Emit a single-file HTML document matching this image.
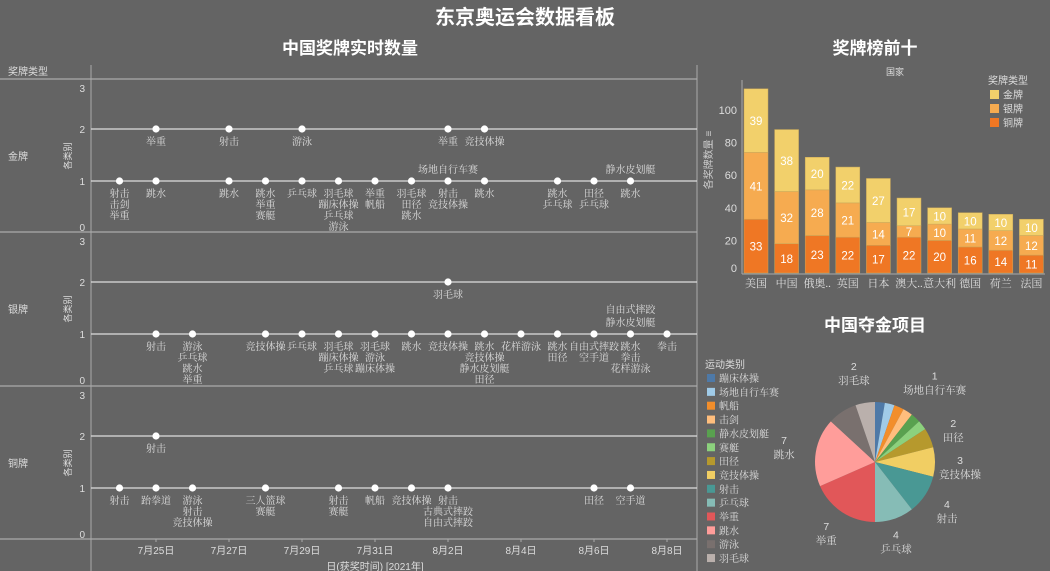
<!DOCTYPE html>
<html><head><meta charset="utf-8">
<style>
html,body{margin:0;padding:0;background:#646464;}
svg{display:block;font-family:"Liberation Sans","Noto Sans CJK SC",sans-serif;}
.s{font-family:"Liberation Serif","Noto Serif CJK SC",serif;}
</style></head>
<body>
<svg id="c" width="1050" height="571" viewBox="0 0 1050 571" xmlns="http://www.w3.org/2000/svg">
<rect width="1050" height="571" fill="#646464"/>
<text x="525" y="24" text-anchor="middle" font-size="20" font-weight="bold" fill="#fff">东京奥运会数据看板</text>
<text x="350" y="54" text-anchor="middle" font-size="17" font-weight="bold" fill="#fff">中国奖牌实时数量</text>
<text x="875" y="54" text-anchor="middle" font-size="17" font-weight="bold" fill="#fff">奖牌榜前十</text>
<text x="875" y="331" text-anchor="middle" font-size="17" font-weight="bold" fill="#fff">中国夺金项目</text>
<g id="tl"></g>
<g id="bar"></g>
<g id="pie"></g>
</svg>
<script>
// ---- timeline data (day index from 7/24) ----
const goldDays   = [0,1,1,3,3,4,5,5,6,7,8,9,9,10,10,12,13,14];
const goldCounts = [1,2,1,2,1,1,2,1,1,1,1,2,1,2,1,1,1,1];
const goldBelow  = [["射击","击剑","举重"],["举重"],["跳水"],["射击"],["跳水"],["跳水","举重","赛艇"],["游泳"],["乒乓球"],["羽毛球","蹦床体操","乒乓球","游泳"],["举重","帆船"],["羽毛球","田径","跳水"],["举重"],["射击","竞技体操"],["竞技体操"],["跳水"],["跳水","乒乓球"],["田径","乒乓球"],["跳水"]];
const goldAbove  = [[],[],[],[],[],[],[],[],[],[],[],[],["场地自行车赛"],[],[],[],[],["静水皮划艇"]];
const silverDays   = [1,2,4,5,6,7,8,9,9,10,11,12,13,14,15];
const silverCounts = [1,1,1,1,1,1,1,2,1,1,1,1,1,1,1];
const silverBelow  = [["射击"],["游泳","乒乓球","跳水","举重"],["竞技体操"],["乒乓球"],["羽毛球","蹦床体操","乒乓球"],["羽毛球","游泳","蹦床体操"],["跳水"],["羽毛球"],["竞技体操"],["跳水","竞技体操","静水皮划艇","田径"],["花样游泳"],["跳水","田径"],["自由式摔跤","空手道"],["跳水","拳击","花样游泳"],["拳击"]];
const silverAbove  = [[],[],[],[],[],[],[],[],[],[],[],[],[],["自由式摔跤","静水皮划艇"],[]];
const bronzeDays   = [0,1,1,2,4,6,7,8,9,13,14];
const bronzeCounts = [1,2,1,1,1,1,1,1,1,1,1];
const bronzeBelow  = [["射击"],["射击"],["跆拳道"],["游泳","射击","竞技体操"],["三人篮球","赛艇"],["射击","赛艇"],["帆船"],["竞技体操"],["射击","古典式摔跤","自由式摔跤"],["田径"],["空手道"]];
const yTicks = [0,1,2,3];
const xTickLabels = ["7月25日","7月27日","7月29日","7月31日","8月2日","8月4日","8月6日","8月8日"];
const xTickDays = [1,3,5,7,9,11,13,15];

// ---- bar data ----
const countries = ["美国","中国","俄奥..","英国","日本","澳大..","意大利","德国","荷兰","法国"];
const bronze = [33,18,23,22,17,22,20,16,14,11];
const silver = [41,32,28,21,14,7,10,11,12,12];
const gold   = [39,38,20,22,27,17,10,10,10,10];
const barTicks = [0,20,40,60,80,100];

// ---- pie data ----
const sports = ["蹦床体操","场地自行车赛","帆船","击剑","静水皮划艇","赛艇","田径","竞技体操","射击","乒乓球","举重","跳水","游泳","羽毛球"];
const sportGolds = [1,1,1,1,1,1,2,3,4,4,7,7,3,2];
const sportColors = ["#4e79a7","#a0cbe8","#f28e2b","#ffbe7d","#59a14f","#8cd17d","#b6992d","#f1ce63","#499894","#86bcb6","#e15759","#ff9d9a","#79706e","#bab0ac"];
const pieLabeled = [false,true,false,false,false,false,true,true,true,true,true,true,false,true];

const NS="http://www.w3.org/2000/svg";
function mk(tag,attrs,parent,txt){const e=document.createElementNS(NS,tag);for(const k in attrs)e.setAttribute(k,attrs[k]);if(txt!==undefined)e.textContent=txt;parent.appendChild(e);return e;}

// timeline
const tl=document.getElementById('tl');
const xDay=d=>119.5+36.5*d;
const panels=[{name:"金牌",top:79,d:goldDays,c:goldCounts,b:goldBelow,a:goldAbove},
 {name:"银牌",top:232,d:silverDays,c:silverCounts,b:silverBelow,a:silverAbove},
 {name:"铜牌",top:386,d:bronzeDays,c:bronzeCounts,b:bronzeBelow,a:bronzeDays.map(()=>[])}];
let ln=mk('line',{x1:91,y1:65,x2:91,y2:571,stroke:"#aaa","stroke-width":1},tl);

ln=mk('line',{x1:697,y1:65,x2:697,y2:571,stroke:"#aaa","stroke-width":1},tl);

let t=mk('text',{x:8,y:75,"font-size":10,fill:"#ddd"},tl,"奖牌类型");

panels.forEach((p,pi)=>{
  const yv=v=>p.top+154-52*v;
  const bl=mk('line',{x1:0,y1:p.top,x2:697,y2:p.top,stroke:"#aaa","stroke-width":1.2},tl);
  
  const rl=mk('text',{x:8,y:p.top+81,"font-size":10,fill:"#ddd"},tl,p.name);
  
  const at=mk('text',{x:0,y:0,"font-size":9,fill:"#ddd","text-anchor":"middle",transform:`translate(71,${p.top+77}) rotate(-90)`},tl,"各类别");
  
  yTicks.forEach(v=>{
    const ty=Math.min(Math.max(yv(v),p.top+9),p.top+148);
    const tt=mk('text',{x:85,y:ty+4,"font-size":10,fill:"#ddd","text-anchor":"end"},tl,String(v));
    
    if(v===1||v===2){const g=mk('line',{x1:91,y1:yv(v),x2:697,y2:yv(v),stroke:"#ddd","stroke-width":1.2},tl);
      }
  });
  p.d.forEach((d,i)=>{
    const cx=xDay(d),cy=yv(p.c[i]);
    const dot=mk('circle',{cx:cx,cy:cy,r:3.6,fill:"#fff"},tl);
    
    p.b[i].forEach((s,k)=>{const l=mk('text',{x:cx,y:cy+16+k*11,"font-size":10,fill:"#ddd","text-anchor":"middle",class:"s"},tl,s);
      });
    p.a[i].forEach((s,k)=>{const l=mk('text',{x:cx,y:cy-8-(p.a[i].length-1-k)*13,"font-size":10,fill:"#ddd","text-anchor":"middle",class:"s"},tl,s);
      });
  });
});
ln=mk('line',{x1:0,y1:539,x2:697,y2:539,stroke:"#aaa","stroke-width":1.2},tl);

xTickDays.forEach((d,i)=>{
  const tk=mk('line',{x1:xDay(d),y1:539,x2:xDay(d),y2:542,stroke:"#aaa"},tl);
  
  const l=mk('text',{x:xDay(d),y:554,"font-size":10,fill:"#ddd","text-anchor":"middle"},tl,xTickLabels[i]);
  
});
t=mk('text',{x:375,y:570,"font-size":10,fill:"#ddd","text-anchor":"middle"},tl,"日(获奖时间) [2021年]");


// bar chart
const bg=document.getElementById('bar');
const yB=v=>273-1.63*v, xB=i=>756+30.6*i, bw=24;
t=mk('text',{x:895,y:75,"font-size":9,fill:"#ddd","text-anchor":"middle"},bg,"国家");

ln=mk('line',{x1:742,y1:80,x2:742,y2:274,stroke:"#aaa"},bg);

ln=mk('line',{x1:742,y1:274,x2:1045,y2:274,stroke:"#aaa"},bg);

barTicks.forEach(v=>{const l=mk('text',{x:737,y:Math.min(yB(v),268)+4,"font-size":11,fill:"#ddd","text-anchor":"end"},bg,String(v));
  });
t=mk('text',{x:0,y:0,"font-size":10,fill:"#ccc","text-anchor":"middle",transform:"translate(712,160) rotate(-90)"},bg,"各奖牌数量 ≡");

const segs=[{v:bronze,c:"#ef7724",n:"bronze"},{v:silver,c:"#f6ab50",n:"silver"},{v:gold,c:"#f2d06b",n:"gold"}];
countries.forEach((cn,i)=>{
  let base=0;
  segs.forEach(s=>{
    const v=s.v[i];
    const r=mk('rect',{x:xB(i)-bw/2,y:yB(base+v),width:bw,height:1.63*v,fill:s.c,stroke:"#c9a85a","stroke-width":0.5},bg);
    
    const l=mk('text',{x:xB(i),y:yB(base+v/2)+4.5,"font-size":11.5,fill:"#fff","text-anchor":"middle"},bg,String(v));
    
    base+=v;
  });
  const l=mk('text',{x:xB(i),y:287,"font-size":11,fill:"#ddd","text-anchor":"middle",class:"s"},bg,cn);
  
});
t=mk('text',{x:988,y:84,"font-size":10,fill:"#ddd"},bg,"奖牌类型");

[["金牌","#f2d06b"],["银牌","#f6ab50"],["铜牌","#ef7724"]].forEach((e,k)=>{
  const r=mk('rect',{x:990,y:90+k*14,width:9,height:9,fill:e[1]},bg);
  
  const l=mk('text',{x:1003,y:98.5+k*14,"font-size":10,fill:"#ddd"},bg,e[0]);
  
});

// pie
const pg=document.getElementById('pie');
t=mk('text',{x:705,y:368,"font-size":10,fill:"#ddd"},pg,"运动类别");

sports.forEach((s,k)=>{
  const r=mk('rect',{x:707,y:374+k*13.85,width:8,height:8,fill:sportColors[k]},pg);
  
  const l=mk('text',{x:719,y:382+k*13.85,"font-size":10,fill:"#ddd",class:"s"},pg,s);
  
});
const cx=875,cy=462,R=60;
// label anchor offsets (layout only)
const labelShift={1:[40,-2],6:[5,0],7:[5,5],8:[5,5],9:[-5,4],10:[-5,4],11:[-12,-2],13:[-8,-10]};
const total=sportGolds.reduce((a,b)=>a+b,0);
let acc=0;
sportGolds.forEach((v,k)=>{
  const a0=acc/total*2*Math.PI-Math.PI/2; acc+=v; const a1=acc/total*2*Math.PI-Math.PI/2;
  const large=(a1-a0)>Math.PI?1:0;
  const d=`M${cx},${cy} L${cx+R*Math.cos(a0)},${cy+R*Math.sin(a0)} A${R},${R} 0 ${large} 1 ${cx+R*Math.cos(a1)},${cy+R*Math.sin(a1)} Z`;
  const p=mk('path',{d:d,fill:sportColors[k]},pg);
  
  if(pieLabeled[k]){
    const am=(a0+a1)/2, lr=R+20;
    const sh=labelShift[k]||[0,0];
    const lx=cx+lr*Math.cos(am)+sh[0], ly=cy+lr*Math.sin(am)+sh[1];
    const l1=mk('text',{x:lx,y:ly-3,"font-size":10.5,fill:"#ddd","text-anchor":"middle"},pg,String(v));
    
    const l2=mk('text',{x:lx,y:ly+11,"font-size":10.5,fill:"#ddd","text-anchor":"middle",class:"s"},pg,sports[k]);
    
  }
});
</script>
</body></html>
